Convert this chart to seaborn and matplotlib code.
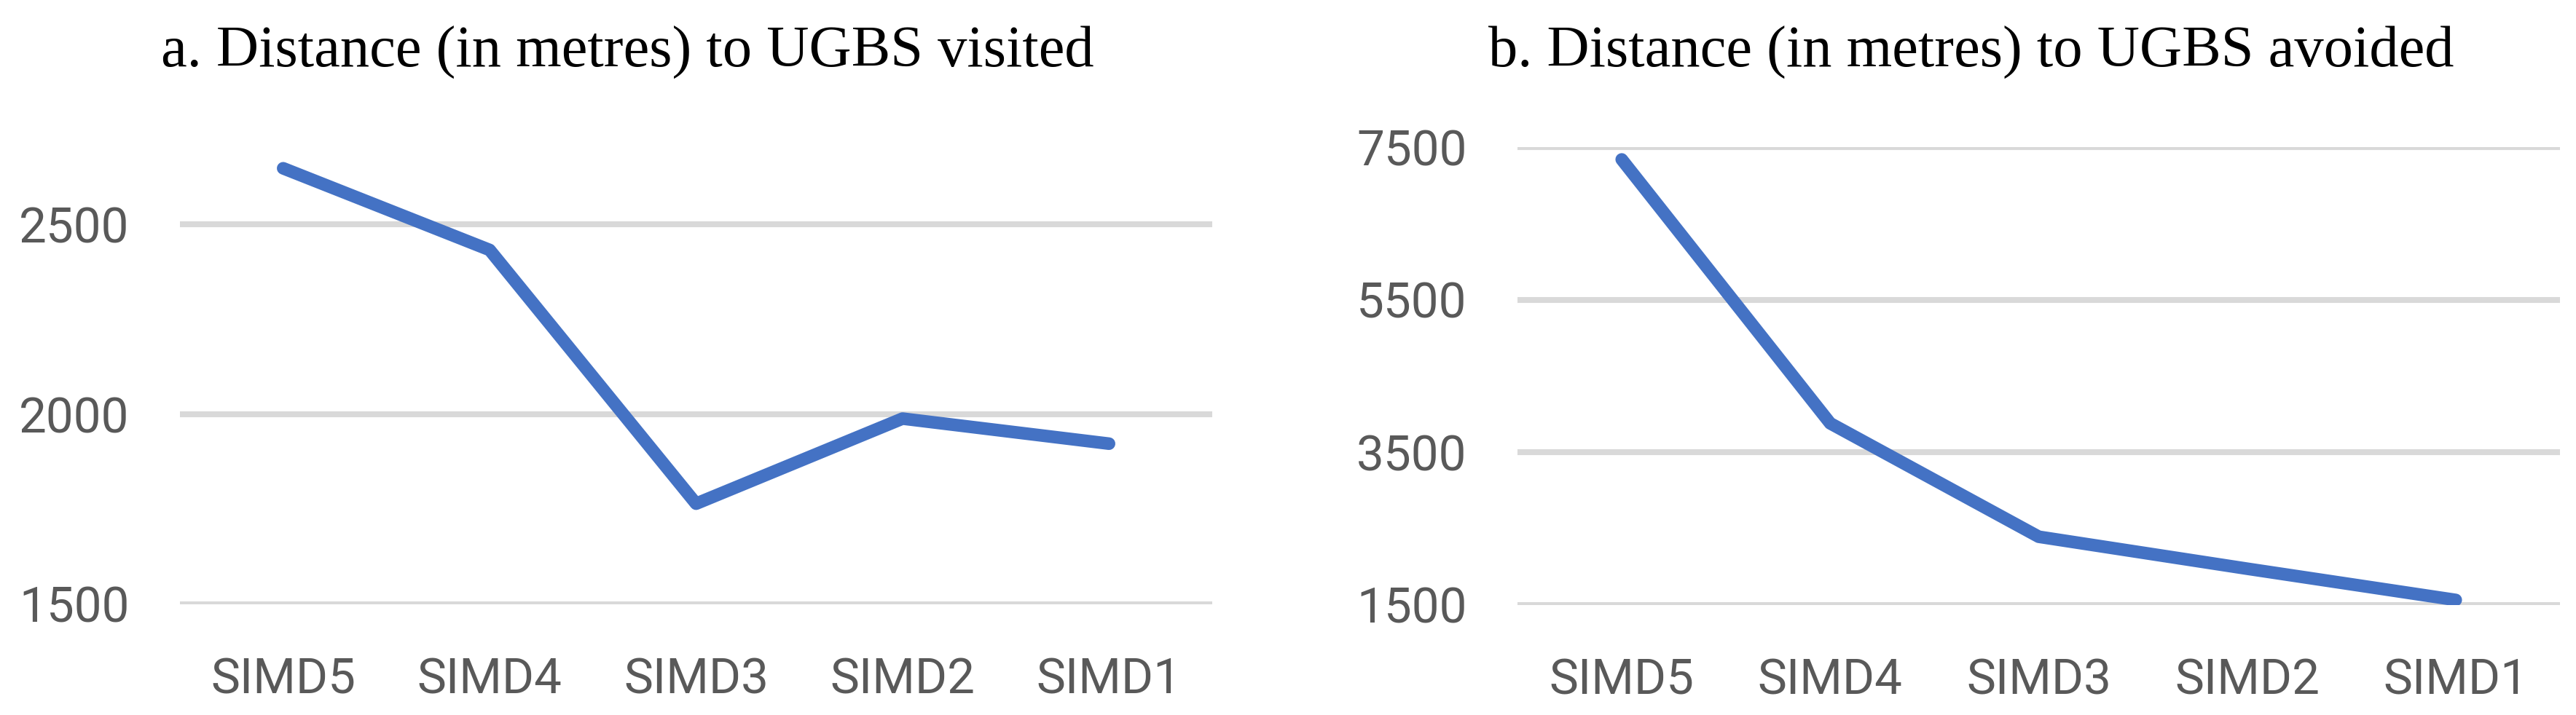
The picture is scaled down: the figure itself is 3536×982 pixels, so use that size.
import matplotlib
matplotlib.use("Agg")
import matplotlib.pyplot as plt
import seaborn as sns
import pandas as pd

categories = ["SIMD5", "SIMD4", "SIMD3", "SIMD2", "SIMD1"]
visited = [2648, 2433, 1765, 1989, 1923]
avoided = [7338, 3881, 2395, 1976, 1567]
visited_ticks = [1500, 2000, 2500]
avoided_ticks = [1500, 3500, 5500, 7500]
title_a = "a. Distance (in metres) to UGBS visited"
title_b = "b. Distance (in metres) to UGBS avoided"

sns.set_theme(style="white")
plt.rcParams['font.family'] = ['Roboto', 'DejaVu Sans']

W, H = 3536, 982
fig = plt.figure(figsize=(W / 100, H / 100), dpi=100)

def frac_box(l, r, t, b):
    return [l / W, 1 - b / H, (r - l) / W, (b - t) / H]

ax_a = fig.add_axes(frac_box(247, 1664, 204, 830))
ax_b = fig.add_axes(frac_box(2083, 3514, 202, 831))

line_color = "#4472C4"
grid_color = "#D9D9D9"
tick_color = "#595959"

for ax, vals, ticks, ylim in [
    (ax_a, visited, visited_ticks, (1500, 2700)),
    (ax_b, avoided, avoided_ticks, (1500, 7500)),
]:
    df = pd.DataFrame({"cat": categories, "val": vals})
    for t in ticks:
        ax.axhline(t, color=grid_color, linewidth=5.8, zorder=1)
    sns.lineplot(data=df, x="cat", y="val", sort=False, ax=ax, color=line_color,
                 linewidth=12.5, zorder=3)
    for ln in ax.get_lines()[len(ticks):]:
        ln.set_solid_capstyle("round")
        ln.set_solid_joinstyle("round")
        ln.set_linewidth(12.5)
    ax.set_xlim(-0.5, 4.5)
    ax.set_ylim(*ylim)
    ax.set_yticks(ticks)
    ax.set_yticklabels([str(t) for t in ticks])
    ax.set_xlabel("")
    ax.set_ylabel("")
    for s in ax.spines.values():
        s.set_visible(False)
    ax.tick_params(axis="both", length=0, labelsize=48.5, colors=tick_color)
    ax.tick_params(axis="y", pad=50)
    ax.tick_params(axis="x", pad=52)
    ax.set_facecolor("none")

fig.text(861 / W, 1 - 92 / H, title_a, ha="center", va="baseline",
         family=["Liberation Serif"], fontsize=58, color="black")
fig.text(2706 / W, 1 - 92 / H, title_b, ha="center", va="baseline",
         family=["Liberation Serif"], fontsize=58, color="black")

fig.savefig("out.png", dpi=100, facecolor="white")
